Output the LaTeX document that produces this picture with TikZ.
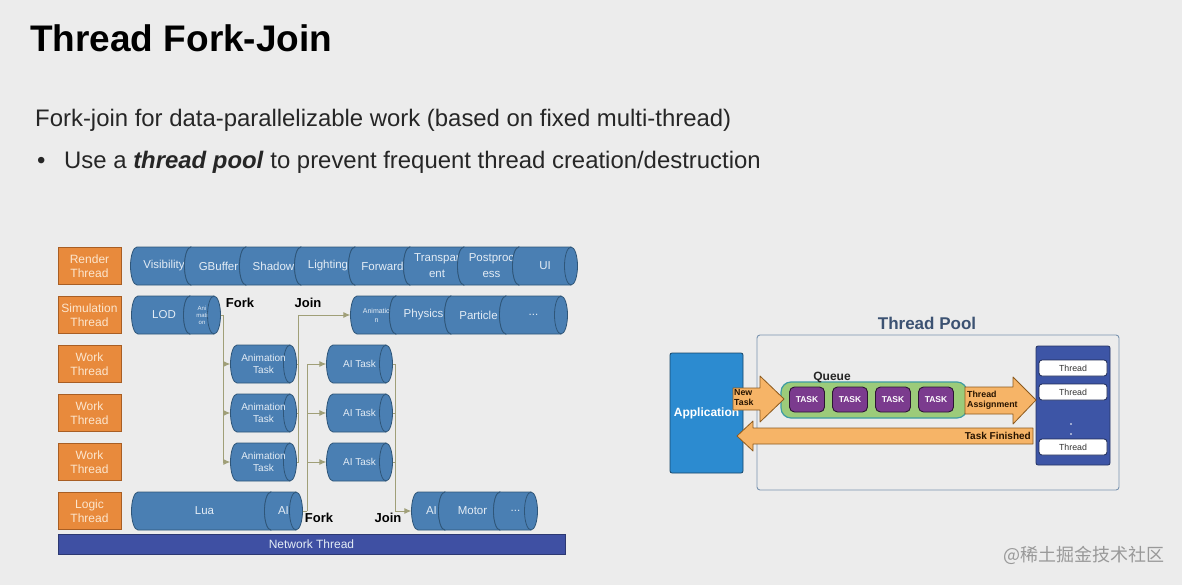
\documentclass[tikz,border=0pt]{standalone}
\usepackage{fontspec}
\setmainfont{Liberation Sans}
\newfontfamily\cjk{Noto Sans CJK SC}
\usepackage{tikz}
\usetikzlibrary{arrows.meta}
\usetikzlibrary{positioning}

\definecolor{slidebg}{HTML}{ECECEC}
\definecolor{bodytxt}{HTML}{262626}
\definecolor{canfill}{HTML}{4A7FB3}
\definecolor{canline}{HTML}{2F5679}
\definecolor{cantxt}{HTML}{E3ECF5}
\definecolor{orgfill}{HTML}{E88A3C}
\definecolor{orgline}{HTML}{A85E24}
\definecolor{orgtxt}{HTML}{FCE6CE}
\definecolor{netfill}{HTML}{3F50A3}
\definecolor{linkcol}{HTML}{A09F78}
\definecolor{appfill}{HTML}{2C8BD0}
\definecolor{blockfill}{HTML}{F6B467}
\definecolor{blockline}{HTML}{8C5A1E}
\definecolor{queuefill}{HTML}{9CCB7A}
\definecolor{queueline}{HTML}{3E9CA3}
\definecolor{taskfill}{HTML}{7B3B8E}
\definecolor{poolfill}{HTML}{3D55A6}
\definecolor{pooltitle}{HTML}{3C5272}
\definecolor{frameline}{HTML}{7A93AE}

\begin{document}
\begin{tikzpicture}[
  x=1pt,
  y=-1pt,
  every node/.style={font=\fontsize{11.5}{16}\selectfont},
  thread/.style={rectangle, draw=orgline, fill=orgfill, text=orgtxt, line width=0.8pt,
    minimum width=63, minimum height=37, inner sep=0pt, align=center, font=\fontsize{12}{14}\selectfont},
  canbody/.style={fill=canfill, draw=canline, line width=0.8pt},
  cantext/.style={inner sep=0pt, minimum height=38, text=cantxt, align=center},
  netbar/.style={rectangle, fill=netfill, draw=netfill!70!black, minimum width=507, minimum height=20,
    inner sep=0pt, text=cantxt, font=\fontsize{12}{14}\selectfont},
  link/.style={draw=linkcol, line width=0.9pt},
  tip/.style={-{Latex[length=7pt, width=6pt]}},
  forkjoin/.style={inner sep=0pt, font=\fontsize{13}{15}\selectfont\bfseries},
  heading/.style={anchor=base west, inner sep=0pt, font=\fontsize{37}{40}\selectfont\bfseries},
  bodytext/.style={anchor=base west, inner sep=0pt, text=bodytxt, font=\fontsize{23.9}{28}\selectfont},
  appbox/.style={rectangle, rounded corners=2pt, fill=appfill, draw=appfill!50!black, line width=0.8pt,
    minimum width=73, minimum height=120, inner sep=0pt, text=white, font=\fontsize{12}{14}\selectfont\bfseries},
  poolframe/.style={rectangle, rounded corners=3pt, draw=frameline, line width=0.9pt,
    minimum width=362, minimum height=155},
  workers/.style={rectangle, rounded corners=2pt, fill=poolfill, draw=poolfill!60!black, line width=0.8pt,
    minimum width=74, minimum height=119},
  worker/.style={rectangle, rounded corners=3pt, fill=white, draw=poolfill!50!black, line width=0.8pt,
    minimum width=68, minimum height=16, inner sep=0pt, text=black!80, font=\fontsize{8.8}{10}\selectfont},
  queuebox/.style={rectangle, rounded corners=10pt, fill=queuefill, draw=queueline, line width=1.2pt,
    minimum width=186, minimum height=36},
  task/.style={rectangle, rounded corners=5pt, fill=taskfill, draw=taskfill!35!black, line width=0.9pt,
    minimum width=35, minimum height=25, inner sep=0pt, text=white, font=\fontsize{8.5}{10}\selectfont\bfseries},
  block/.style={fill=blockfill, draw=blockline, line width=0.8pt, line join=round},
  blocktext/.style={inner sep=0pt, align=left, text=black!85!orange, font=\fontsize{8.8}{10}\selectfont\bfseries}
]

\useasboundingbox[fill=slidebg] (0,0) rectangle (1182,585);

% name, left x, right x, centre y, node options, text
\def\segcan#1#2#3#4#5#6{%
  \filldraw[canbody] (#2,#4-19) -- (#3,#4-19)
    arc[start angle=-90, end angle=90, x radius=6.5, y radius=19] -- (#2,#4+19)
    arc[start angle=90, end angle=270, x radius=6.5, y radius=19] -- cycle;
  \draw[canbody, fill=none] (#3,#4-19) arc[start angle=270, end angle=90, x radius=6.5, y radius=19];
  \node[cantext, minimum width=#3-#2+13, #5] (#1) at ({(#2+#3)/2},#4) {#6};
}

\node[heading] (title) at (30,52) {Thread Fork-Join};
\node[bodytext] (intro) at (35,127) {Fork-join for data-parallelizable work (based on fixed multi-thread)};
\node[bodytext] (dot) at (37,169) {\textbullet};
\node[bodytext] (point) at (64,169) {Use a \textbf{\textit{thread pool}} to prevent frequent thread creation/destruction};

% threads
\node[thread] (render) at (89.5,266) {Render\\Thread};
\node[thread] (sim) at (89.5,315) {Simulation\\Thread};
\node[thread] (work1) at (89.5,364) {Work\\Thread};
\node[thread] (work2) at (89.5,413) {Work\\Thread};
\node[thread] (work3) at (89.5,462) {Work\\Thread};
\node[thread] (logic) at (89.5,511) {Logic\\Thread};
\node[netbar] (net) at (311.5,544) {Network Thread};

\segcan{vis}{137}{191}{266}{}{Visibility}
\segcan{gbuf}{191}{246}{266}{}{GBuffer}
\segcan{shadow}{246}{301}{266}{}{Shadow}
\segcan{light}{301}{355}{266}{}{Lighting}
\segcan{fwd}{355}{410}{266}{}{Forward}
\segcan{transp}{410}{464}{266}{}{Transpar\\ent}
\segcan{post}{464}{519}{266}{}{Postproc\\ess}
\segcan{ui}{519}{571}{266}{}{UI}

\segcan{lod}{138}{190}{315}{}{LOD}
\segcan{anim}{190}{214}{315}{font=\fontsize{6}{7}\selectfont}{Ani\\mati\\on}
\segcan{anm}{357}{396}{315}{font=\fontsize{7}{9}\selectfont}{Animatio\\n}
\segcan{phys}{396}{451}{315}{}{Physics}
\segcan{part}{451}{506}{315}{}{Particle}
\segcan{simdots}{506}{561}{315}{}{...}

\segcan{at1}{237}{290}{364}{font=\fontsize{10}{12}\selectfont}{Animation\\Task}
\segcan{at2}{237}{290}{413}{font=\fontsize{10}{12}\selectfont}{Animation\\Task}
\segcan{at3}{237}{290}{462}{font=\fontsize{10}{12}\selectfont}{Animation\\Task}
\segcan{ai1}{333}{386}{364}{font=\fontsize{10}{12}\selectfont}{AI Task}
\segcan{ai2}{333}{386}{413}{font=\fontsize{10}{12}\selectfont}{AI Task}
\segcan{ai3}{333}{386}{462}{font=\fontsize{10}{12}\selectfont}{AI Task}

\segcan{lua}{138}{271}{511}{}{Lua}
\segcan{luaai}{271}{296}{511}{}{AI}
\segcan{aij}{418}{445}{511}{}{AI}
\segcan{motor}{445}{500}{511}{}{Motor}
\segcan{logicdots}{500}{531}{511}{}{...}

% fork / join
\coordinate (f1) at (223,315);
\coordinate (j1) at (298,315);
\coordinate (f2) at (307,511);
\coordinate (j2) at (395,511);

\draw[link] (anim.east) -- (f1);
\foreach \t in {at1,at2,at3} \draw[link,tip] (f1) |- (\t.west);
\foreach \t in {at1,at2,at3} \draw[link] (\t.east) -| (j1);
\draw[link,tip] (j1) -- (anm.west);

\draw[link] (luaai.east) -- (f2);
\foreach \t in {ai1,ai2,ai3} \draw[link,tip] (f2) |- (\t.west);
\foreach \t in {ai1,ai2,ai3} \draw[link] (\t.east) -| (j2);
\draw[link,tip] (j2) -- (aij.west);

\node[forkjoin] (fork1) at (240,303) {Fork};
\node[forkjoin] (join1) at (308,303) {Join};
\node[forkjoin] (fork2) at (319,518) {Fork};
\node[forkjoin] (join2) at (388,518) {Join};

% thread pool
\node[inner sep=0pt, text=pooltitle, font=\fontsize{17}{19}\selectfont\bfseries] (ptitle) at (927,323) {Thread Pool};
\node[poolframe] (pool) at (938,412.5) {};
\node[appbox] (app) at (706.5,413) {Application};
\node[workers] (workers) at (1073,405.5) {};
\node[worker] (w1) at (1073,368) {Thread};
\node[worker] (w2) at (1073,392) {Thread};
\node[worker] (w3) at (1073,447) {Thread};
\fill[white] (1071,424) circle (0.8) (1071,434) circle (0.8);

\node[queuebox] (queue) at (874,400) {};
\node[inner sep=0pt, text=black!85, font=\fontsize{12}{14}\selectfont\bfseries] (qlabel) at (832,377) {Queue};
\foreach \x [count=\i] in {807,850,893,936} \node[task] (task\i) at (\x,399.5) {TASK};

\filldraw[block] (733,388) -- (760,388) -- (760,376) -- (784,399) -- (760,422) -- (760,410) -- (733,410) -- cycle;
\node[blocktext, anchor=west] (newtask) at (734,398) {New\\Task};

\filldraw[block] (965,387) -- (1013,387) -- (1013,377) -- (1036,400) -- (1013,424) -- (1013,414) -- (965,414) -- cycle;
\node[blocktext, anchor=west] (assign) at (967,400) {Thread\\Assignment};

\filldraw[block] (1033,428) -- (753,428) -- (753,421) -- (737,436) -- (753,451) -- (753,444) -- (1033,444) -- cycle;
\node[blocktext, anchor=east, font=\fontsize{10}{12}\selectfont\bfseries] (finished) at (1031,436) {Task Finished};

\node[anchor=west, inner sep=0pt, text=black!40, font=\cjk\fontsize{18}{20}\selectfont] (mark) at (1003,555) {@稀土掘金技术社区};

\end{tikzpicture}
\end{document}
